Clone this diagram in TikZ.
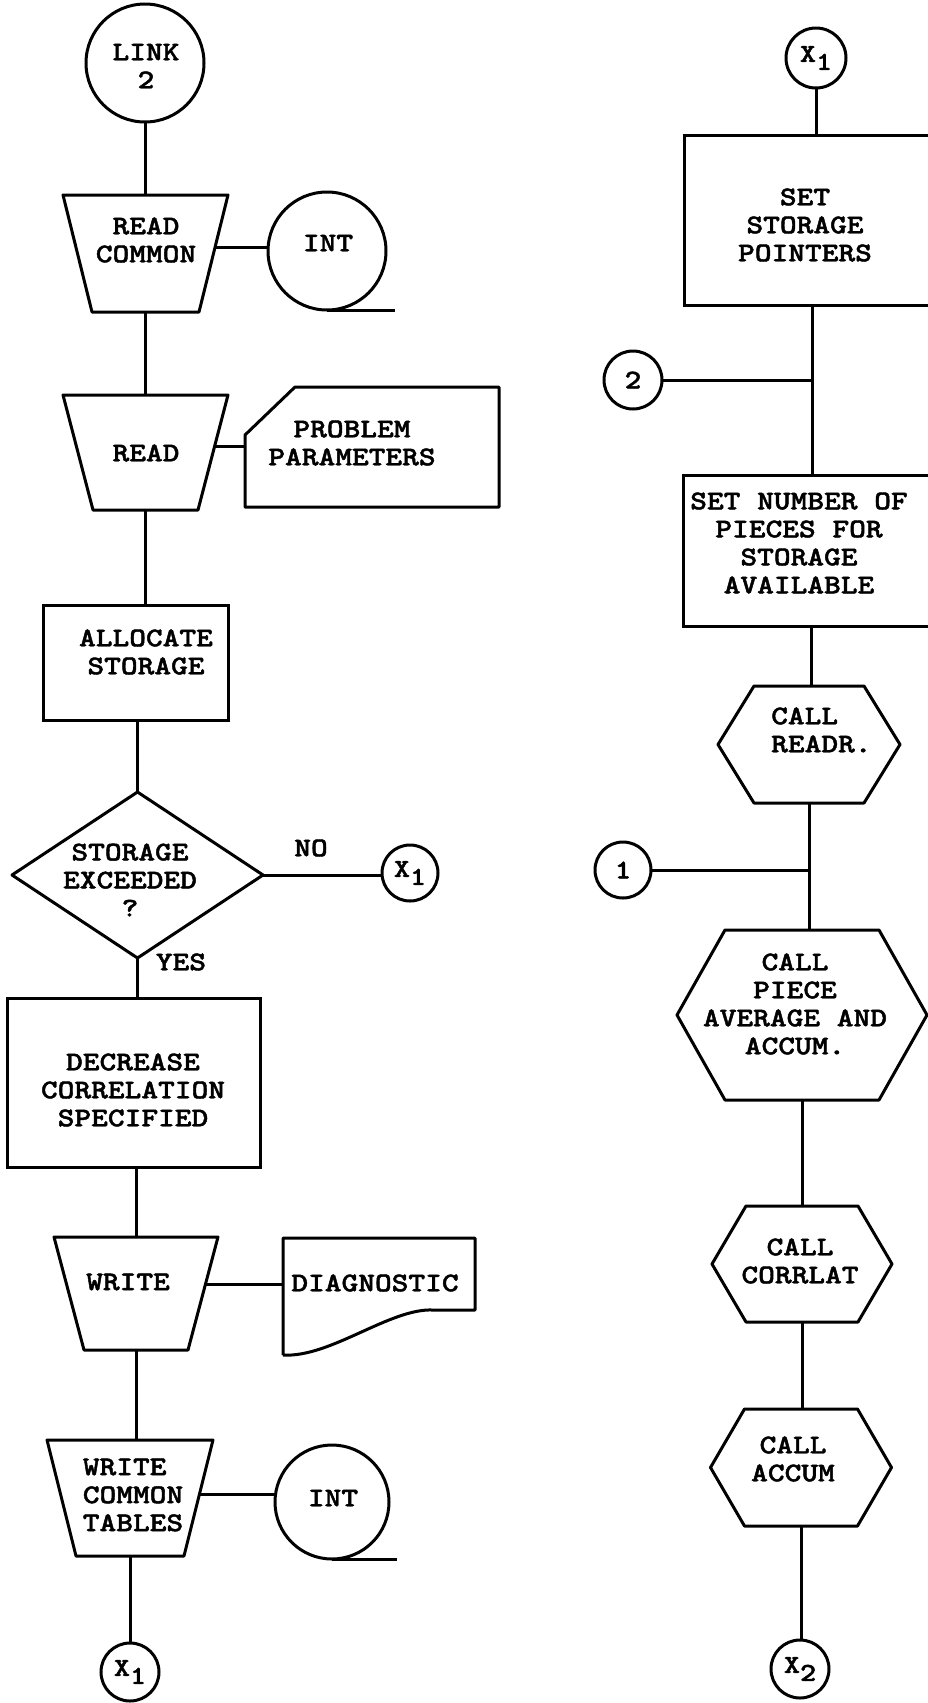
\documentclass[tikz,border=0pt]{standalone}
\usepackage{fontspec}
\newfontfamily\tw{lmmonolt10-bold}[Extension=.otf, FakeStretch=1.18, FakeBold=1.6]
\usetikzlibrary{calc}

% outline of an inverted trapezoid (I/O block) around a placeholder node
\newcommand\trappath[2]{%
  \draw[ln] (#1.north west) -- (#1.north east) -- ([xshift=-#2]#1.south east)
    -- ([xshift=#2]#1.south west) -- cycle;}
% outline of a hexagon (subroutine call) around a placeholder node
\newcommand\hexpath[2]{%
  \draw[ln] ([xshift=#2]#1.north west) -- ([xshift=-#2]#1.north east) -- (#1.east)
    -- ([xshift=-#2]#1.south east) -- ([xshift=#2]#1.south west) -- (#1.west) -- cycle;}

\begin{document}
\begin{tikzpicture}[x=1pt,y=-1pt,
  ln/.style={line width=3pt, line join=round},
  slot/.style={rectangle, draw=none, inner sep=0pt, outer sep=0pt},
  box/.style={slot, draw, line width=3pt},
  conn/.style={circle, draw, line width=3pt, inner sep=0pt, outer sep=0pt},
  lbl/.style={font=\tw\fontsize{27}{28}\selectfont, align=center, inner sep=0pt},
  sml/.style={font=\tw\fontsize{26}{26}\selectfont, inner sep=0pt}]

\fill[white] (0,0) rectangle (928,1703);
\useasboundingbox (0,0) rectangle (928,1703);
\clip (0,0) rectangle (928,1703);

% ---------------- left column ----------------
\node[conn, minimum size=118pt] (link) at (145,63) {};
\node[lbl] (linkT) at (146,66) {LINK\\2};

\node[slot, minimum width=165pt, minimum height=117pt] (rc) at (145.5,253.5) {};
\trappath{rc}{29pt}
\node[lbl] (rcT) at (146,240) {READ\\COMMON};

\node[conn, minimum size=118pt] (int1) at (327,251) {};
\node[lbl] (int1T) at (328,243) {INT};

\node[slot, minimum width=165pt, minimum height=115pt] (rd) at (145.5,452.5) {};
\trappath{rd}{30pt}
\node[lbl] (rdT) at (146,453) {READ};

\node[slot, minimum width=254pt, minimum height=120pt] (pp) at (372,447) {};
\draw[ln] (pp.south west) -- ([yshift=-48pt]pp.north west) -- ([xshift=50pt]pp.north west)
  -- (pp.north east) -- (pp.south east) -- cycle;
\node[lbl] (ppT) at (352,443) {PROBLEM\\PARAMETERS};

\node[box, minimum width=185pt, minimum height=115pt] (alloc) at (135.5,662.5) {};
\node[lbl] (allocT) at (146,652) {ALLOCATE\\STORAGE};

\node[slot, minimum width=251pt, minimum height=166pt] (dec) at (137.5,875) {};
\draw[ln] (dec.north) -- (dec.east) -- (dec.south) -- (dec.west) -- cycle;
\node[lbl] (decT) at (130,880) {STORAGE\\EXCEEDED\\?};
\node[lbl] (no) at (311,848) {NO};
\node[lbl] (yes) at (181,962) {YES};

\node[conn, sml, minimum size=56pt] (x1a) at (410,873) {X\raisebox{-8pt}{1}};

\node[box, minimum width=253pt, minimum height=169pt] (decr) at (133.5,1082.5) {};
\node[lbl] (decrT) at (133,1090) {DECREASE\\CORRELATION\\SPECIFIED};

\node[slot, minimum width=164pt, minimum height=113pt] (wr) at (136,1293.5) {};
\trappath{wr}{30pt}
\node[lbl] (wrT) at (128,1282) {WRITE};

\node[slot, minimum width=192pt, minimum height=117pt] (diag) at (379,1296.5) {};
\draw[ln] (diag.south west) -- (diag.north west) -- (diag.north east)
  -- ([yshift=45pt]diag.south east) -- ([xshift=-42pt,yshift=45pt]diag.south east)
  .. controls ([xshift=-85pt,yshift=47pt]diag.south east) and ([xshift=47pt,yshift=-3pt]diag.south west)
  .. (diag.south west);
\node[lbl] (diagT) at (375,1283) {DIAGNOSTIC};

\node[slot, minimum width=166pt, minimum height=116pt] (wct) at (130,1498) {};
\trappath{wct}{29pt}
\node[lbl, align=left] (wctT) at (133,1495) {WRITE\\COMMON\\TABLES};

\node[conn, minimum size=114pt] (int2) at (332,1502) {};
\node[lbl] (int2T) at (333,1498) {INT};

\node[conn, sml, minimum size=58pt] (x1b) at (130,1672) {X\raisebox{-8pt}{1}};

% left column connectors
\draw[ln] (link.south) -- (link.south |- rc.north);
\coordinate (rcS) at ($(rc.north east)!0.45!([xshift=-29pt]rc.south east)$);
\draw[ln] (rcS) -- (rcS -| int1.west);
\draw[ln] (int1.south) -- ++(68,0);
\draw[ln] (rc.south) -- (rc.south |- rd.north);
\coordinate (rdS) at ($(rd.north east)!0.45!([xshift=-30pt]rd.south east)$);
\draw[ln] (rdS) -- (rdS -| pp.west);
\draw[ln] (rd.south) -- (rd.south |- alloc.north);
\draw[ln] (alloc.south -| dec.north) -- (dec.north);
\draw[ln] (dec.east) -- (dec.east -| x1a.west);
\draw[ln] (dec.south) -- (dec.south |- decr.north);
\draw[ln] (decr.south -| wr.north) -- (wr.north);
\coordinate (wrS) at ($(wr.north east)!0.42!([xshift=-30pt]wr.south east)$);
\draw[ln] (wrS) -- (wrS -| diag.west);
\draw[ln] (wr.south) -- (wr.south |- wct.north);
\coordinate (wctS) at ($(wct.north east)!0.47!([xshift=-29pt]wct.south east)$);
\draw[ln] (wctS) -- (wctS -| int2.west);
\draw[ln] (int2.south) -- ++(65,0);
\draw[ln] (wct.south) -- (wct.south |- x1b.north);

% ---------------- right column ----------------
\node[conn, sml, minimum size=60pt] (x1c) at (816,58) {X\raisebox{-8pt}{1}};

\node[box, minimum width=256pt, minimum height=170pt] (ssp) at (812,220) {};
\node[lbl] (sspT) at (805,225) {SET\\STORAGE\\POINTERS};

\node[conn, lbl, minimum size=58pt] (c2) at (633,380) {2};

\node[box, minimum width=256pt, minimum height=151pt] (snp) at (811,550.5) {};
\node[lbl] (snpT) at (799,543) {SET NUMBER OF\\PIECES FOR\\STORAGE\\AVAILABLE};

\node[slot, minimum width=182pt, minimum height=117pt] (readr) at (809,744.5) {};
\hexpath{readr}{36pt}
\node[lbl, align=left, anchor=west] (readrT) at (771,730) {CALL\\READR.};

\node[conn, lbl, minimum size=56pt] (c1) at (623,870) {1};

\node[slot, minimum width=250pt, minimum height=170pt] (piece) at (802,1015) {};
\hexpath{piece}{48pt}
\node[lbl] (pieceT) at (795,1004) {CALL\\PIECE\\AVERAGE AND\\ACCUM.};

\node[slot, minimum width=180pt, minimum height=116pt] (corrlat) at (802,1264) {};
\hexpath{corrlat}{34pt}
\node[lbl] (corrlatT) at (800,1261) {CALL\\CORRLAT};

\node[slot, minimum width=181pt, minimum height=117pt] (accum) at (801,1467.5) {};
\hexpath{accum}{34pt}
\node[lbl] (accumT) at (793,1459) {CALL\\ACCUM};

\node[conn, sml, minimum size=58pt] (x2) at (800,1669) {X\raisebox{-8pt}{2}};

% right column connectors
\draw[ln] (x1c.south) -- (x1c.south |- ssp.north);
\draw[ln] (ssp.south) -- (ssp.south |- snp.north);
\draw[ln] (c2.east) -- (c2.east -| ssp.south);
\draw[ln] (snp.south) -- (snp.south |- readr.north);
\draw[ln] (readr.south) -- (readr.south |- piece.north);
\draw[ln] (c1.east) -- (c1.east -| readr.south);
\draw[ln] (piece.south) -- (piece.south |- corrlat.north);
\draw[ln] (corrlat.south) -- (corrlat.south |- accum.north);
\draw[ln] (accum.south) -- (accum.south |- x2.north);
\end{tikzpicture}
\end{document}
